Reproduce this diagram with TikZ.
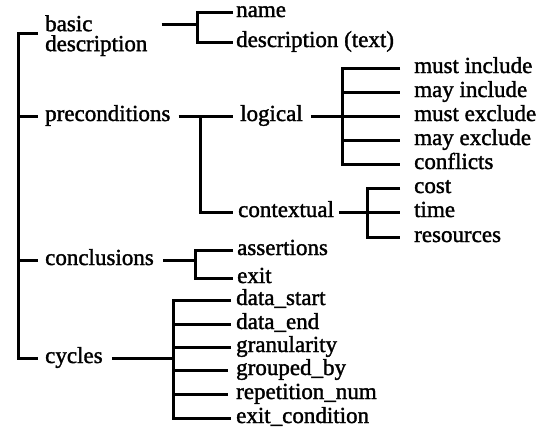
\documentclass[tikz,border=0pt]{standalone}
\usepackage{fontspec}
\setmainfont{Liberation Serif}[FakeBold=1.5]
\tikzset{
  txt/.style={font=\fontsize{23}{20}\selectfont, inner sep=0pt, text=black},
  lab/.style={txt, anchor=west, text height=10pt, text depth=0pt},
  br/.style={line width=3pt, draw=black}
}
\begin{document}
\begin{tikzpicture}[x=1pt,y=-1pt]
\useasboundingbox (0,0) rectangle (544,434);
\fill[white] (0,0) rectangle (544,434);
% ---- level 1 ----
\node[txt, anchor=north west, align=left] (bd) at (45,15) {basic\\description};
\node[lab] (pre) at (45,116) {preconditions};
\node[lab] (con) at (45,260) {conclusions};
\node[lab] (cyc) at (45,358) {cycles};
\coordinate (T1) at (18,33);
\coordinate (T4) at (18,358);
\draw[br] ([xshift=-7pt]bd.west |- T1) -- (T1) -- (T4) -- ([xshift=-7pt]cyc.west);
\draw[br] (T1 |- pre) -- ([xshift=-7pt]pre.west);
\draw[br] (T1 |- con) -- ([xshift=-7pt]con.west);
% ---- basic description ----
\node[lab] (name) at (236,12) {name};
\node[lab] (desc) at (236,42) {description (text)};
\coordinate (JB) at (197,24);
\draw[br] ([xshift=14pt]bd.east |- JB) -- (JB);
\draw[br] ([xshift=-3pt]name.west) -| (JB) |- ([xshift=-3pt]desc.west);
% ---- preconditions ----
\node[lab] (log) at (240,116) {logical};
\node[lab] (ctx) at (238,212) {contextual};
\coordinate (JP) at (200,116);
\draw[br] ([xshift=8pt]pre.east) -- ([xshift=-7pt]log.west);
\draw[br] (JP) |- ([xshift=-5pt]ctx.west);
% ---- logical ----
\node[lab] (mi) at (414,68) {must include};
\node[lab] (yi) at (414,92) {may include};
\node[lab] (me) at (414,116) {must exclude};
\node[lab] (ye) at (414,140) {may exclude};
\node[lab] (cf) at (414,164) {conflicts};
\coordinate (JL) at (342,116);
\draw[br] ([xshift=-14pt]mi.west) -| (JL) |- ([xshift=-14pt]cf.west);
\draw[br] ([xshift=8pt]log.east) -- ([xshift=-14pt]me.west);
\draw[br] (JL |- yi) -- ([xshift=-14pt]yi.west);
\draw[br] (JL |- ye) -- ([xshift=-14pt]ye.west);
% ---- contextual ----
\node[lab] (cost) at (414,188) {cost};
\node[lab] (time) at (414,212) {time};
\node[lab] (res) at (414,237) {resources};
\coordinate (JC) at (367,212);
\draw[br] ([xshift=5pt]ctx.east) -- ([xshift=-14pt]time.west);
\draw[br] ([xshift=-14pt]cost.west) -| (JC) |- ([xshift=-14pt]res.west);
% ---- conclusions ----
\node[lab] (ass) at (237,250) {assertions};
\node[lab] (exit) at (237,278) {exit};
\coordinate (JN) at (195,260);
\draw[br] ([xshift=9pt]con.east) -- (JN);
\draw[br] ([xshift=-4pt]ass.west) -| (JN) |- ([xshift=-4pt]exit.west);
% ---- cycles ----
\node[lab] (ds) at (236,300) {data\_start};
\node[lab] (de) at (236,324) {data\_end};
\node[lab] (gr) at (236,347) {granularity};
\node[lab] (gb) at (236,370) {grouped\_by};
\node[lab] (rn) at (236,394) {repetition\_num};
\node[lab] (ec) at (236,418) {exit\_condition};
\coordinate (JY) at (173,358);
\draw[br] ([xshift=9pt]cyc.east) -- (JY);
\draw[br] ([xshift=-5pt]ds.west) -| (JY) |- ([xshift=-5pt]ec.west);
\draw[br] (JY |- de) -- ([xshift=-5pt]de.west);
\draw[br] (JY |- gr) -- ([xshift=-5pt]gr.west);
\draw[br] (JY |- gb) -- ([xshift=-8pt]gb.west);
\draw[br] (JY |- rn) -- ([xshift=-8pt]rn.west);
\end{tikzpicture}
\end{document}
